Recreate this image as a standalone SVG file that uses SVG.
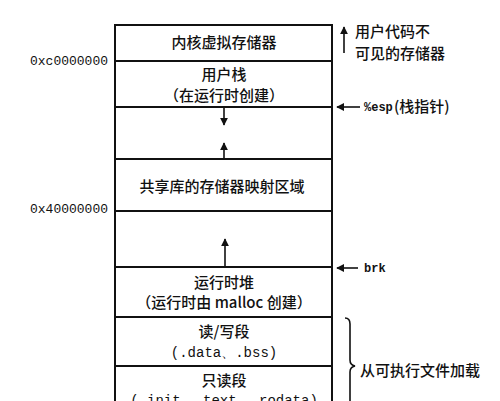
<svg xmlns="http://www.w3.org/2000/svg" width="500" height="401" viewBox="0 0 500 401">
<style>
.cn{font-family:"Noto Sans CJK SC","Noto Sans",sans-serif;font-size:15px;font-weight:500;fill:#111;}
.mono{font-family:"Liberation Mono","DejaVu Sans Mono",monospace;font-size:13px;fill:#111;}
.seg{font-size:14px;}
.sm{font-size:12px;font-weight:bold;}
.ln{stroke:#111;stroke-width:2;fill:none;}
.ar{stroke:#111;stroke-width:1.6;fill:none;}
</style>
<defs>
<marker id="ah" viewBox="0 0 10 10" refX="9" refY="5" markerWidth="5" markerHeight="5" orient="auto-start-reverse">
<path d="M0,0 L10,5 L0,10 z" fill="#111"/>
</marker>
</defs>
<rect width="500" height="401" fill="#fff"/>
<g id="frame">
<path class="ln" d="M115,405 V25 H332 V405"/>
</g>
<g id="kernel">
<text class="cn" x="224" y="48" text-anchor="middle">内核虚拟存储器</text>
</g>
<g id="userstack">
<line class="ln" x1="115" y1="61" x2="332" y2="61"/>
<text class="cn" x="224" y="80" text-anchor="middle">用户栈</text>
<text class="cn" x="224" y="101" text-anchor="middle">（在运行时创建）</text>
</g>
<g id="gap1">
<line class="ln" x1="115" y1="107" x2="332" y2="107"/>
</g>
<g id="shared">
<line class="ln" x1="115" y1="159" x2="332" y2="159"/>
<text class="cn" x="222" y="192" text-anchor="middle">共享库的存储器映射区域</text>
</g>
<g id="gap2">
<line class="ln" x1="115" y1="211" x2="332" y2="211"/>
</g>
<g id="heap">
<line class="ln" x1="115" y1="267" x2="332" y2="267"/>
<text class="cn" x="224" y="288" text-anchor="middle">运行时堆</text>
<text class="cn" x="224" y="308" text-anchor="middle">（运行时由 malloc 创建）</text>
</g>
<g id="rwseg">
<line class="ln" x1="115" y1="317" x2="332" y2="317"/>
<text class="cn" x="224" y="337" text-anchor="middle">读/写段</text>
<text class="mono seg" x="224" y="357" text-anchor="middle">(.data、.bss)</text>
</g>
<g id="roseg">
<line class="ln" x1="115" y1="366" x2="332" y2="366"/>
<text class="cn" x="224" y="386" text-anchor="middle">只读段</text>
<text class="mono seg" x="224" y="405" text-anchor="middle">(.init、.text、.rodata)</text>
</g>
<g id="addr-c">
<text class="mono" x="108" y="65" text-anchor="end">0xc0000000</text>
</g>
<g id="addr-4">
<text class="mono" x="108" y="213" text-anchor="end">0x40000000</text>
</g>
<g id="note-user">
<text class="cn" x="355" y="37">用户代码不</text>
<text class="cn" x="355" y="59">可见的存储器</text>
</g>
<g id="note-esp">
<text class="mono sm" x="364" y="111">%esp</text>
<text class="cn" x="394" y="112">(栈指针)</text>
</g>
<g id="note-brk">
<text class="mono sm" x="364" y="272">brk</text>
</g>
<g id="note-load">
<text class="cn" x="360" y="376">从可执行文件加载</text>
</g>
<g id="connectors">
<line class="ar" x1="224" y1="108" x2="224" y2="125" marker-end="url(#ah)"/>
<line class="ar" x1="224" y1="158" x2="224" y2="143" marker-end="url(#ah)"/>
<line class="ar" x1="225" y1="266" x2="225" y2="239" marker-end="url(#ah)"/>
<line class="ar" x1="344" y1="53" x2="344" y2="27" marker-end="url(#ah)"/>
<line class="ar" x1="360" y1="107" x2="337" y2="107" marker-end="url(#ah)"/>
<line class="ar" x1="358" y1="268" x2="337" y2="268" marker-end="url(#ah)"/>
<path class="ar" stroke-width="1.3" d="M345,318 Q350,318 350,324 V360 Q350,365 355,366 Q350,367 350,372 V405"/>
</g>
</svg>
